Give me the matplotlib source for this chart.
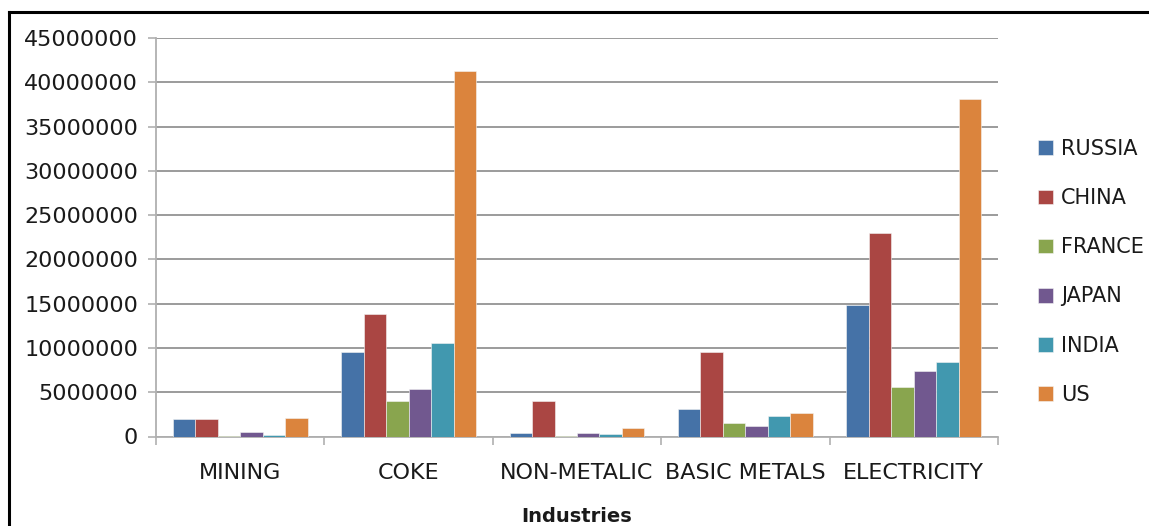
import numpy as np
import matplotlib.pyplot as plt
from matplotlib.lines import Line2D
from matplotlib.ticker import FuncFormatter, FixedLocator

# Data
industries = ["MINING", "COKE", "NON-METALIC", "BASIC METALS", "ELECTRICITY"]
countries = ["RUSSIA", "CHINA", "FRANCE", "JAPAN", "INDIA", "US"]

russia = [1920000, 9510000, 410000, 3080000, 14900000]
china = [2000000, 13800000, 3980000, 9510000, 23000000]
france = [20000, 3980000, 50000, 1470000, 5560000]
japan = [500000, 5410000, 410000, 1200000, 7370000]
india = [150000, 10560000, 260000, 2370000, 8420000]
us = [2050000, 41300000, 980000, 2670000, 38100000]

colors = ["#4572A7", "#AA4643", "#89A54E", "#71588F", "#4198AF", "#DB843D"]

plt.rcParams['font.family'] = ['DejaVu Sans']

fig = plt.figure(figsize=(11.49, 5.26), dpi=100, facecolor='white')
ax = fig.add_axes([156 / 1149, 1 - 436.5 / 526, (998 - 156) / 1149, (436.5 - 38) / 526])

series = [russia, china, france, japan, india, us]
x = np.arange(len(industries))
bar_w = 1 / 7.5
for i, (name, vals) in enumerate(zip(countries, series)):
    offs = (i - 2.5) * bar_w
    ax.bar(x + offs, vals, width=bar_w, color=colors[i], label=name,
           edgecolor='#f4f4f4', linewidth=0.4, zorder=3)

# axes styling, excel look
grid_c = '#8a8a8a'
ax.set_xlim(-0.5, len(industries) - 0.5)
ax.set_ylim(0, 45000000)
ax.set_yticks(np.arange(0, 45000001, 5000000))
ax.yaxis.set_major_formatter(FuncFormatter(lambda v, p: f"{int(v)}"))
ax.yaxis.grid(True, color=grid_c, linewidth=1.2, zorder=0)
ax.set_axisbelow(True)

for s in ['top', 'right']:
    ax.spines[s].set_visible(False)
for s in ['left', 'bottom']:
    ax.spines[s].set_color('#b0b0b0')
    ax.spines[s].set_linewidth(1.3)

ax.xaxis.set_major_locator(FixedLocator(np.arange(-0.5, len(industries), 1.0)))
ax.xaxis.set_major_formatter(FuncFormatter(lambda v, p: ""))
ax.xaxis.set_minor_locator(FixedLocator(x))
ax.set_xticklabels(industries, minor=True)
ax.tick_params(axis='x', which='major', length=6, width=1.2, color='#b0b0b0', direction='out')
ax.tick_params(axis='x', which='minor', length=0, pad=19, labelsize=16, labelcolor='#1a1a1a')
ax.tick_params(axis='y', length=6, width=1.2, color='#b0b0b0', pad=7,
               labelsize=16, labelcolor='#1a1a1a')

fig.text(577 / 1149, 4 / 526, "Industries", ha='center', va='baseline',
         fontsize=14, fontweight='bold', color='#1a1a1a')

leg = ax.legend(loc='upper left', bbox_to_anchor=(1038 / 1149, 1 - 139 / 526),
                bbox_transform=fig.transFigure, frameon=False, fontsize=15,
                handlelength=0.7, handleheight=0.7, handletextpad=0.4,
                labelspacing=1.4, borderpad=0, borderaxespad=0)
for t in leg.get_texts():
    t.set_color('#1a1a1a')

# black frame around the chart (right and bottom edges are outside the picture)
fig.add_artist(Line2D([8.5 / 1149, 1.0], [1 - 12 / 526, 1 - 12 / 526],
                      transform=fig.transFigure, color='black', linewidth=2.2))
fig.add_artist(Line2D([8.5 / 1149, 8.5 / 1149], [0, 1 - 12 / 526],
                      transform=fig.transFigure, color='black', linewidth=2.2))

fig.savefig('out.png', dpi=100, facecolor='white')
